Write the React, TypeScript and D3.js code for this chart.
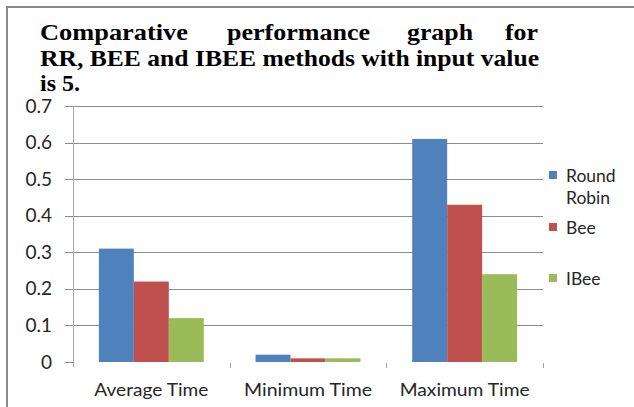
import React from "react";
import * as d3 from "d3";

const categories = ["Average Time", "Minimum Time", "Maximum Time"];
const seriesNames = ["Round Robin", "Bee", "IBee"];
const roundRobin = [0.31, 0.02, 0.61];
const bee = [0.22, 0.01, 0.43];
const ibee = [0.12, 0.01, 0.24];
const yTicks = [0, 0.1, 0.2, 0.3, 0.4, 0.5, 0.6, 0.7];
const titleLine1 = ["Comparative", "performance", "graph", "for"];
const titleLine2 = "RR, BEE and IBEE methods with input value";
const titleLine3 = "is 5.";
const colors = ["#4F81BD", "#C0504D", "#9BBB59"];

const W = 634;
const H = 407;
const plot = { left: 73, right: 543, top: 106, bottom: 362 };

export default function App() {
  const series = [roundRobin, bee, ibee];
  const x = d3
    .scaleBand<string>()
    .domain(categories)
    .range([plot.left, plot.right])
    .paddingInner(0)
    .paddingOuter(0);
  const inner = d3
    .scaleBand<string>()
    .domain(seriesNames)
    .range([0, x.bandwidth()])
    .paddingOuter(0.74)
    .paddingInner(0);
  const y = d3.scaleLinear().domain([0, 0.7]).range([plot.bottom, plot.top]);
  const fmt = d3.format("");
  const sans = "Lato, 'DejaVu Sans', sans-serif";
  const serif = "'Liberation Serif', 'Times New Roman', serif";
  const wordX = [40, 227, 407, 505];
  const wordLen = [148, 143, 66, 33];

  return (
    <svg
      width={W}
      height={H}
      style={{ position: "absolute", left: 0, top: 0, background: "#fff" }}
    >
      {/* frame */}
      <line x1={7} y1={7} x2={W} y2={7} stroke="#8a8a8a" strokeWidth={2} />
      <line x1={7} y1={6} x2={7} y2={H} stroke="#8a8a8a" strokeWidth={2} />

      {/* title */}
      <g fontFamily={serif} fontWeight="bold" fontSize={24} fill="#000">
        {titleLine1.map((w, i) => (
          <text
            key={w}
            x={wordX[i]}
            y={40}
            textLength={wordLen[i]}
            lengthAdjust="spacingAndGlyphs"
          >
            {w}
          </text>
        ))}
        <text x={40} y={65.5} textLength={499} lengthAdjust="spacingAndGlyphs">
          {titleLine2}
        </text>
        <text x={40} y={91}>
          {titleLine3}
        </text>
      </g>

      {/* gridlines and y ticks */}
      {yTicks.map((t) => (
        <g key={t}>
          <line
            x1={plot.left - 8}
            x2={t === 0 ? plot.left : plot.right}
            y1={Math.round(y(t)) + 0.5}
            y2={Math.round(y(t)) + 0.5}
            stroke="#8c8c8c"
            strokeWidth={1}
          />
          <text
            x={52}
            y={y(t) + 6.5}
            textAnchor="end"
            fontFamily={sans}
            fontSize={19}
            fill="#262626"
          >
            {fmt(t)}
          </text>
        </g>
      ))}
      {/* y axis */}
      <line
        x1={plot.left + 0.5}
        x2={plot.left + 0.5}
        y1={plot.top}
        y2={plot.bottom + 5}
        stroke="#a6a6a6"
      />
      {/* x ticks */}
      {categories.map((c) => (
        <line
          key={c}
          x1={Math.round((x(c) as number) + x.bandwidth()) + 0.5}
          x2={Math.round((x(c) as number) + x.bandwidth()) + 0.5}
          y1={plot.bottom + 1}
          y2={plot.bottom + 6}
          stroke="#a6a6a6"
        />
      ))}

      {/* bars */}
      {series.map((vals, si) => (
        <g key={seriesNames[si]} fill={colors[si]}>
          {vals.map((v, ci) => (
            <rect
              key={categories[ci]}
              x={(x(categories[ci]) as number) + (inner(seriesNames[si]) as number)}
              y={y(v)}
              width={inner.bandwidth()}
              height={y(0) - y(v)}
            />
          ))}
        </g>
      ))}

      {/* category labels */}
      {categories.map((c) => (
        <text
          key={c}
          x={(x(c) as number) + x.bandwidth() / 2}
          y={396}
          textAnchor="middle"
          fontFamily={sans}
          fontSize={18}
          fill="#262626"
          textLength={c === "Average Time" ? 114 : c === "Minimum Time" ? 128 : 130}
          lengthAdjust="spacingAndGlyphs"
        >
          {c}
        </text>
      ))}

      {/* legend */}
      <g fontFamily={sans} fontSize={17.5} fill="#262626">
        <rect x={549} y={171} width={8} height={8} fill={colors[0]} />
        <text x={566} y={182}>Round</text>
        <text x={566} y={204}>Robin</text>
        <rect x={549} y={223} width={8} height={8} fill={colors[1]} />
        <text x={566} y={234}>Bee</text>
        <rect x={549} y={274} width={8} height={8} fill={colors[2]} />
        <text x={566} y={285}>IBee</text>
      </g>
    </svg>
  );
}
